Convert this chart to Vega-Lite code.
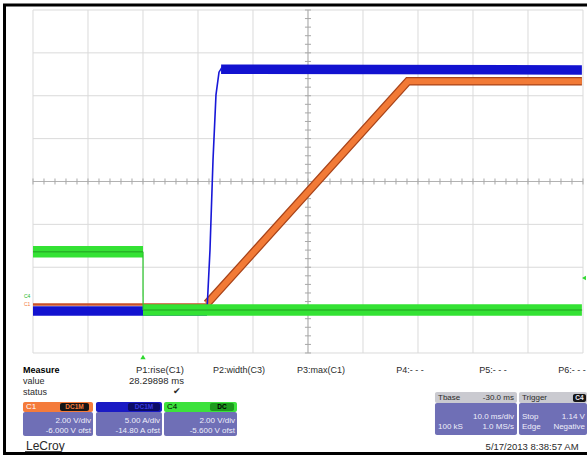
{
  "$schema": "https://vega.github.io/schema/vega-lite/v6.json",
  "width": 587,
  "height": 458,
  "autosize": {"type": "none", "contains": "padding"},
  "padding": 0,
  "background": "white",
  "config": {
    "view": {"stroke": null},
    "axis": {"disable": true},
    "legend": {"disable": true},
    "text": {"font": "Liberation Sans"}
  },
  "datasets": {
    "gridx": [{"t": -20}, {"t": -10}, {"t": 0}, {"t": 10}, {"t": 20}, {"t": 30}, {"t": 40}, {"t": 50}, {"t": 60}, {"t": 70}, {"t": 80}],
    "gridy": [{"v": -4}, {"v": -3}, {"v": -2}, {"v": -1}, {"v": 0}, {"v": 1}, {"v": 2}, {"v": 3}, {"v": 4}],
    "tickx": [{"t": -20}, {"t": -18}, {"t": -16}, {"t": -14}, {"t": -12}, {"t": -10}, {"t": -8}, {"t": -6}, {"t": -4}, {"t": -2}, {"t": 0}, {"t": 2}, {"t": 4}, {"t": 6}, {"t": 8}, {"t": 10}, {"t": 12}, {"t": 14}, {"t": 16}, {"t": 18}, {"t": 20}, {"t": 22}, {"t": 24}, {"t": 26}, {"t": 28}, {"t": 30}, {"t": 32}, {"t": 34}, {"t": 36}, {"t": 38}, {"t": 40}, {"t": 42}, {"t": 44}, {"t": 46}, {"t": 48}, {"t": 50}, {"t": 52}, {"t": 54}, {"t": 56}, {"t": 58}, {"t": 60}, {"t": 62}, {"t": 64}, {"t": 66}, {"t": 68}, {"t": 70}, {"t": 72}, {"t": 74}, {"t": 76}, {"t": 78}, {"t": 80}],
    "ticky": [{"v": -4}, {"v": -3.8}, {"v": -3.6}, {"v": -3.4}, {"v": -3.2}, {"v": -3}, {"v": -2.8}, {"v": -2.6}, {"v": -2.4}, {"v": -2.2}, {"v": -2}, {"v": -1.8}, {"v": -1.6}, {"v": -1.4}, {"v": -1.2}, {"v": -1}, {"v": -0.8}, {"v": -0.6}, {"v": -0.4}, {"v": -0.2}, {"v": 0}, {"v": 0.2}, {"v": 0.4}, {"v": 0.6}, {"v": 0.8}, {"v": 1}, {"v": 1.2}, {"v": 1.4}, {"v": 1.6}, {"v": 1.8}, {"v": 2}, {"v": 2.2}, {"v": 2.4}, {"v": 2.6}, {"v": 2.8}, {"v": 3}, {"v": 3.2}, {"v": 3.4}, {"v": 3.6}, {"v": 3.8}, {"v": 4}],
    "wave": [
      {"ch": "C1", "seg": "C1 base", "kind": "base", "t": -20, "v": -2.87},
      {"ch": "C1", "seg": "C1 base", "kind": "base", "t": 11.64, "v": -2.87},
      {"ch": "C1", "seg": "C1 ramp", "kind": "level", "t": 11.64, "v": -2.85},
      {"ch": "C1", "seg": "C1 ramp", "kind": "level", "t": 48.18, "v": 2.34},
      {"ch": "C1", "seg": "C1 ramp", "kind": "level", "t": 79.8, "v": 2.34},
      {"ch": "C3", "seg": "C3 low", "kind": "level", "t": -20, "v": -3.02},
      {"ch": "C3", "seg": "C3 low", "kind": "level", "t": 11.64, "v": -3.02},
      {"ch": "C3", "seg": "C3 rise", "kind": "edge", "t": 11.64, "v": -3.0},
      {"ch": "C3", "seg": "C3 rise", "kind": "edge", "t": 12.18, "v": -1.6},
      {"ch": "C3", "seg": "C3 rise", "kind": "edge", "t": 12.73, "v": 0.5},
      {"ch": "C3", "seg": "C3 rise", "kind": "edge", "t": 13.27, "v": 2.02},
      {"ch": "C3", "seg": "C3 rise", "kind": "edge", "t": 13.82, "v": 2.55},
      {"ch": "C3", "seg": "C3 rise", "kind": "edge", "t": 14.36, "v": 2.66},
      {"ch": "C3", "seg": "C3 high", "kind": "level", "t": 14.2, "v": 2.62},
      {"ch": "C3", "seg": "C3 high", "kind": "level", "t": 79.8, "v": 2.6},
      {"ch": "C4", "seg": "C4 high", "kind": "level", "t": -20, "v": -1.64},
      {"ch": "C4", "seg": "C4 high", "kind": "level", "t": 0, "v": -1.64},
      {"ch": "C4", "seg": "C4 fall", "kind": "edge", "t": 0, "v": -1.64},
      {"ch": "C4", "seg": "C4 fall", "kind": "edge", "t": 0.02, "v": -3.0},
      {"ch": "C4", "seg": "C4 low", "kind": "level", "t": 0, "v": -3.0},
      {"ch": "C4", "seg": "C4 low", "kind": "level", "t": 79.8, "v": -3.0}
    ],
    "frame": [
      {"t1": -25.18, "t2": -25.18, "v1": 4.117, "v2": -6.344},
      {"t1": -25.45, "t2": 80.73, "v1": 4.117, "v2": 4.117},
      {"t1": -25.45, "t2": 80.73, "v1": -6.344, "v2": -6.344}
    ],
    "boxes": [
      {"role": "hdr1", "t1": -21.82, "t2": -9.09, "v1": -5.143, "v2": -5.376},
      {"role": "body", "t1": -21.82, "t2": -9.09, "v1": -5.376, "v2": -5.936},
      {"role": "badge", "t1": -15.09, "t2": -9.82, "v1": -5.166, "v2": -5.353},
      {"role": "hdr3", "t1": -8.55, "t2": 3.45, "v1": -5.143, "v2": -5.376},
      {"role": "body", "t1": -8.55, "t2": 3.45, "v1": -5.376, "v2": -5.936},
      {"role": "badge3", "t1": -2.73, "t2": 3.09, "v1": -5.166, "v2": -5.353},
      {"role": "hdr4", "t1": 3.82, "t2": 17.09, "v1": -5.143, "v2": -5.376},
      {"role": "body", "t1": 3.82, "t2": 17.09, "v1": -5.376, "v2": -5.936},
      {"role": "badge4", "t1": 12.18, "t2": 16.55, "v1": -5.166, "v2": -5.353},
      {"role": "grey", "t1": 53.09, "t2": 68.0, "v1": -4.91, "v2": -5.166},
      {"role": "body", "t1": 53.09, "t2": 68.0, "v1": -5.166, "v2": -5.913},
      {"role": "grey", "t1": 68.36, "t2": 80.73, "v1": -4.91, "v2": -5.166},
      {"role": "body", "t1": 68.36, "t2": 80.73, "v1": -5.166, "v2": -5.913},
      {"role": "badge", "t1": 78.18, "t2": 80.55, "v1": -4.956, "v2": -5.143}
    ],
    "texts": [
      {"anchor": "left9", "label": "value", "t": -21.82, "v": -4.653, "role": "txt"},
      {"anchor": "left9", "label": "status", "t": -21.82, "v": -4.91, "role": "txt"},
      {"anchor": "left", "label": "C1", "t": -21.27, "v": -5.259, "role": "wtxt"},
      {"anchor": "left", "label": "C4", "t": 4.36, "v": -5.259, "role": "ink"},
      {"anchor": "left", "label": "Tbase", "t": 53.64, "v": -5.038, "role": "txt"},
      {"anchor": "left", "label": "100 kS", "t": 53.64, "v": -5.726, "role": "ltxt"},
      {"anchor": "left", "label": "Trigger", "t": 68.91, "v": -5.038, "role": "txt"},
      {"anchor": "left", "label": "Stop", "t": 68.91, "v": -5.493, "role": "ltxt"},
      {"anchor": "left", "label": "Edge", "t": 68.91, "v": -5.726, "role": "ltxt"},
      {"anchor": "right9", "label": "P1:rise(C1)", "t": 7.45, "v": -4.397, "role": "txt"},
      {"anchor": "right9", "label": "28.29898 ms", "t": 7.45, "v": -4.653, "role": "txt"},
      {"anchor": "right", "label": "2.00 V/div", "t": -9.45, "v": -5.586, "role": "ltxt"},
      {"anchor": "right", "label": "-6.000 V ofst", "t": -9.45, "v": -5.819, "role": "ltxt"},
      {"anchor": "right", "label": "5.00 A/div", "t": 3.09, "v": -5.586, "role": "ltxt"},
      {"anchor": "right", "label": "-14.80 A ofst", "t": 3.09, "v": -5.819, "role": "ltxt"},
      {"anchor": "right", "label": "2.00 V/div", "t": 16.73, "v": -5.586, "role": "ltxt"},
      {"anchor": "right", "label": "-5.600 V ofst", "t": 16.73, "v": -5.819, "role": "ltxt"},
      {"anchor": "right", "label": "-30.0 ms", "t": 67.45, "v": -5.038, "role": "txt"},
      {"anchor": "right", "label": "10.0 ms/div", "t": 67.45, "v": -5.493, "role": "ltxt"},
      {"anchor": "right", "label": "1.0 MS/s", "t": 67.45, "v": -5.726, "role": "ltxt"},
      {"anchor": "right", "label": "1.14 V", "t": 80.36, "v": -5.493, "role": "ltxt"},
      {"anchor": "right", "label": "Negative", "t": 80.36, "v": -5.726, "role": "ltxt"},
      {"anchor": "right9", "label": "5/17/2013 8:38:57 AM", "t": 79.2, "v": -6.192, "role": "txt"},
      {"anchor": "center9", "label": "P2:width(C3)", "t": 17.45, "v": -4.397, "role": "txt"},
      {"anchor": "center9", "label": "P3:max(C1)", "t": 32.36, "v": -4.397, "role": "txt"},
      {"anchor": "center9", "label": "P4:- - -", "t": 48.55, "v": -4.397, "role": "txt"},
      {"anchor": "center9", "label": "P5:- - -", "t": 63.64, "v": -4.397, "role": "txt"},
      {"anchor": "center9", "label": "P6:- - -", "t": 78.0, "v": -4.397, "role": "txt"},
      {"anchor": "center9", "label": "✔", "t": 6.18, "v": -4.886, "role": "txt"},
      {"anchor": "badge", "label": "DC1M", "t": -12.45, "v": -5.259, "role": "otxt"},
      {"anchor": "badge", "label": "DC1M", "t": 0.18, "v": -5.259, "role": "btxt"},
      {"anchor": "badge", "label": "DC", "t": 14.36, "v": -5.259, "role": "ink"},
      {"anchor": "badge", "label": "C4", "t": 79.36, "v": -5.05, "role": "ltxt"},
      {"anchor": "tiny", "label": "C4", "t": -21.64, "v": -2.67, "role": "gtxt"},
      {"anchor": "tiny", "label": "C1", "t": -21.64, "v": -2.85, "role": "otxt"},
      {"anchor": "bold", "label": "Measure", "t": -21.82, "v": -4.397, "role": "ink"},
      {"anchor": "logo", "label": "LeCroy", "t": -21.27, "v": -6.169, "role": "txt"}
    ],
    "markers": [
      {"kind": "trigger time", "t": 0, "v": -4.093},
      {"kind": "trigger level", "t": 80.18, "v": -2.251}
    ],
    "underline": [{"t1": -21.45, "t2": -14.9, "v": -6.3}]
  },
  "layer": [
    {
      "data": {"name": "gridx"},
      "mark": {"type": "rule", "color": "#DADADA", "strokeWidth": 1},
      "encoding": {
        "x": {"field": "t", "type": "quantitative", "scale": {"domain": [-26.0, 80.73], "nice": false, "zero": false}},
        "y": {"datum": -4, "type": "quantitative", "scale": {"domain": [-6.449, 4.233], "nice": false, "zero": false}},
        "y2": {"datum": 4}
      }
    },
    {
      "data": {"name": "gridy"},
      "mark": {"type": "rule", "color": "#DADADA", "strokeWidth": 1},
      "encoding": {
        "y": {"field": "v", "type": "quantitative", "scale": {"domain": [-6.449, 4.233], "nice": false, "zero": false}},
        "x": {"datum": -20, "type": "quantitative", "scale": {"domain": [-26.0, 80.73], "nice": false, "zero": false}},
        "x2": {"datum": 80}
      }
    },
    {
      "data": {"values": [{"t": 30}]},
      "mark": {"type": "rule", "color": "#B2B2B2", "strokeWidth": 1},
      "encoding": {
        "x": {"field": "t", "type": "quantitative", "scale": {"domain": [-26.0, 80.73], "nice": false, "zero": false}},
        "y": {"datum": -4, "type": "quantitative", "scale": {"domain": [-6.449, 4.233], "nice": false, "zero": false}},
        "y2": {"datum": 4}
      }
    },
    {
      "data": {"values": [{"v": 0}]},
      "mark": {"type": "rule", "color": "#B2B2B2", "strokeWidth": 1},
      "encoding": {
        "y": {"field": "v", "type": "quantitative", "scale": {"domain": [-6.449, 4.233], "nice": false, "zero": false}},
        "x": {"datum": -20, "type": "quantitative", "scale": {"domain": [-26.0, 80.73], "nice": false, "zero": false}},
        "x2": {"datum": 80}
      }
    },
    {
      "data": {"name": "tickx"},
      "mark": {"type": "rule", "color": "#A8A8A8", "strokeWidth": 1},
      "encoding": {
        "x": {"field": "t", "type": "quantitative", "scale": {"domain": [-26.0, 80.73], "nice": false, "zero": false}},
        "y": {"datum": -0.07, "type": "quantitative", "scale": {"domain": [-6.449, 4.233], "nice": false, "zero": false}},
        "y2": {"datum": 0.07}
      }
    },
    {
      "data": {"name": "ticky"},
      "mark": {"type": "rule", "color": "#A8A8A8", "strokeWidth": 1},
      "encoding": {
        "y": {"field": "v", "type": "quantitative", "scale": {"domain": [-6.449, 4.233], "nice": false, "zero": false}},
        "x": {"datum": 29.45, "type": "quantitative", "scale": {"domain": [-26.0, 80.73], "nice": false, "zero": false}},
        "x2": {"datum": 30.55}
      }
    },
    {
      "data": {"name": "wave"},
      "transform": [{"filter": "datum.kind == 'base'"}],
      "mark": {"type": "line", "color": "#C8502A", "strokeWidth": 2.5, "strokeCap": "butt"},
      "encoding": {
        "x": {"field": "t", "type": "quantitative", "scale": {"domain": [-26.0, 80.73], "nice": false, "zero": false}},
        "y": {"field": "v", "type": "quantitative", "scale": {"domain": [-6.449, 4.233], "nice": false, "zero": false}},
        "detail": {"field": "seg"}
      }
    },
    {
      "data": {"name": "wave"},
      "transform": [{"filter": "datum.ch == 'C1' && datum.kind == 'level'"}],
      "mark": {"type": "line", "color": "#A8441A", "strokeWidth": 8.5, "strokeCap": "butt", "strokeJoin": "miter"},
      "encoding": {
        "x": {"field": "t", "type": "quantitative", "scale": {"domain": [-26.0, 80.73], "nice": false, "zero": false}},
        "y": {"field": "v", "type": "quantitative", "scale": {"domain": [-6.449, 4.233], "nice": false, "zero": false}},
        "detail": {"field": "seg"}
      }
    },
    {
      "data": {"name": "wave"},
      "transform": [{"filter": "datum.ch == 'C1' && datum.kind == 'level'"}],
      "mark": {"type": "line", "color": "#F27A36", "strokeWidth": 6, "strokeCap": "butt", "strokeJoin": "miter"},
      "encoding": {
        "x": {"field": "t", "type": "quantitative", "scale": {"domain": [-26.0, 80.73], "nice": false, "zero": false}},
        "y": {"field": "v", "type": "quantitative", "scale": {"domain": [-6.449, 4.233], "nice": false, "zero": false}},
        "detail": {"field": "seg"}
      }
    },
    {
      "data": {"name": "wave"},
      "transform": [{"filter": "datum.ch == 'C3' && datum.kind == 'level'"}],
      "mark": {"type": "line", "color": "#1212D0", "strokeWidth": 9.5, "strokeCap": "butt"},
      "encoding": {
        "x": {"field": "t", "type": "quantitative", "scale": {"domain": [-26.0, 80.73], "nice": false, "zero": false}},
        "y": {"field": "v", "type": "quantitative", "scale": {"domain": [-6.449, 4.233], "nice": false, "zero": false}},
        "detail": {"field": "seg"}
      }
    },
    {
      "data": {"name": "wave"},
      "transform": [{"filter": "datum.ch == 'C3' && datum.kind == 'edge'"}],
      "mark": {"type": "line", "color": "#1818D8", "strokeWidth": 1.6},
      "encoding": {
        "x": {"field": "t", "type": "quantitative", "scale": {"domain": [-26.0, 80.73], "nice": false, "zero": false}},
        "y": {"field": "v", "type": "quantitative", "scale": {"domain": [-6.449, 4.233], "nice": false, "zero": false}},
        "detail": {"field": "seg"}
      }
    },
    {
      "data": {"name": "wave"},
      "transform": [{"filter": "datum.ch == 'C4' && datum.kind == 'level'"}],
      "mark": {"type": "line", "color": "#34E234", "strokeWidth": 11.5, "strokeCap": "butt"},
      "encoding": {
        "x": {"field": "t", "type": "quantitative", "scale": {"domain": [-26.0, 80.73], "nice": false, "zero": false}},
        "y": {"field": "v", "type": "quantitative", "scale": {"domain": [-6.449, 4.233], "nice": false, "zero": false}},
        "detail": {"field": "seg"}
      }
    },
    {
      "data": {"name": "wave"},
      "transform": [{"filter": "datum.ch == 'C4' && datum.kind == 'level'"}],
      "mark": {"type": "line", "color": "#1E8E1E", "strokeWidth": 1.5, "opacity": 0.55, "strokeCap": "butt"},
      "encoding": {
        "x": {"field": "t", "type": "quantitative", "scale": {"domain": [-26.0, 80.73], "nice": false, "zero": false}},
        "y": {"field": "v", "type": "quantitative", "scale": {"domain": [-6.449, 4.233], "nice": false, "zero": false}},
        "detail": {"field": "seg"}
      }
    },
    {
      "data": {"name": "wave"},
      "transform": [{"filter": "datum.ch == 'C4' && datum.kind == 'edge'"}],
      "mark": {"type": "line", "color": "#2AC82A", "strokeWidth": 1.2},
      "encoding": {
        "x": {"field": "t", "type": "quantitative", "scale": {"domain": [-26.0, 80.73], "nice": false, "zero": false}},
        "y": {"field": "v", "type": "quantitative", "scale": {"domain": [-6.449, 4.233], "nice": false, "zero": false}},
        "detail": {"field": "seg"}
      }
    },
    {
      "data": {"name": "markers"},
      "transform": [{"filter": "datum.kind == 'trigger time'"}],
      "mark": {"type": "point", "shape": "triangle-up", "filled": true, "color": "#2ED82E", "size": 28, "opacity": 1},
      "encoding": {
        "x": {"field": "t", "type": "quantitative", "scale": {"domain": [-26.0, 80.73], "nice": false, "zero": false}},
        "y": {"field": "v", "type": "quantitative", "scale": {"domain": [-6.449, 4.233], "nice": false, "zero": false}}
      }
    },
    {
      "data": {"name": "markers"},
      "transform": [{"filter": "datum.kind == 'trigger level'"}],
      "mark": {"type": "point", "shape": "triangle-left", "filled": true, "color": "#2ED82E", "size": 20, "opacity": 1},
      "encoding": {
        "x": {"field": "t", "type": "quantitative", "scale": {"domain": [-26.0, 80.73], "nice": false, "zero": false}},
        "y": {"field": "v", "type": "quantitative", "scale": {"domain": [-6.449, 4.233], "nice": false, "zero": false}}
      }
    },
    {
      "data": {"name": "boxes"},
      "mark": {"type": "rect", "cornerRadius": 2},
      "encoding": {
        "x": {"field": "t1", "type": "quantitative", "scale": {"domain": [-26.0, 80.73], "nice": false, "zero": false}},
        "x2": {"field": "t2"},
        "y": {"field": "v1", "type": "quantitative", "scale": {"domain": [-6.449, 4.233], "nice": false, "zero": false}},
        "y2": {"field": "v2"},
        "color": {"field": "role", "type": "nominal", "legend": null, "scale": {"domain": ["hdr1", "hdr3", "hdr4", "body", "grey", "badge", "badge3", "badge4", "txt", "wtxt", "ltxt", "otxt", "btxt", "gtxt", "ink"], "range": ["#F47B3B", "#1A1AC4", "#3CE23C", "#6F6FB6", "#CACAD0", "#161616", "#0C0C66", "#1E9A1E", "#2A2A2A", "#FFFFFF", "#EEEEFA", "#F47B3B", "#3A3AE0", "#22B822", "#000000"]}}
      }
    },
    {
      "data": {"name": "texts"},
      "transform": [{"filter": "datum.anchor == 'left'"}],
      "mark": {"type": "text", "align": "left", "baseline": "middle", "fontSize": 8},
      "encoding": {
        "x": {"field": "t", "type": "quantitative", "scale": {"domain": [-26.0, 80.73], "nice": false, "zero": false}},
        "y": {"field": "v", "type": "quantitative", "scale": {"domain": [-6.449, 4.233], "nice": false, "zero": false}},
        "text": {"field": "label"},
        "color": {"field": "role", "type": "nominal", "legend": null}
      }
    },
    {
      "data": {"name": "texts"},
      "transform": [{"filter": "datum.anchor == 'left9'"}],
      "mark": {"type": "text", "align": "left", "baseline": "middle", "fontSize": 9},
      "encoding": {
        "x": {"field": "t", "type": "quantitative", "scale": {"domain": [-26.0, 80.73], "nice": false, "zero": false}},
        "y": {"field": "v", "type": "quantitative", "scale": {"domain": [-6.449, 4.233], "nice": false, "zero": false}},
        "text": {"field": "label"},
        "color": {"field": "role", "type": "nominal", "legend": null}
      }
    },
    {
      "data": {"name": "texts"},
      "transform": [{"filter": "datum.anchor == 'right'"}],
      "mark": {"type": "text", "align": "right", "baseline": "middle", "fontSize": 8},
      "encoding": {
        "x": {"field": "t", "type": "quantitative", "scale": {"domain": [-26.0, 80.73], "nice": false, "zero": false}},
        "y": {"field": "v", "type": "quantitative", "scale": {"domain": [-6.449, 4.233], "nice": false, "zero": false}},
        "text": {"field": "label"},
        "color": {"field": "role", "type": "nominal", "legend": null}
      }
    },
    {
      "data": {"name": "texts"},
      "transform": [{"filter": "datum.anchor == 'right9'"}],
      "mark": {"type": "text", "align": "right", "baseline": "middle", "fontSize": 9.5},
      "encoding": {
        "x": {"field": "t", "type": "quantitative", "scale": {"domain": [-26.0, 80.73], "nice": false, "zero": false}},
        "y": {"field": "v", "type": "quantitative", "scale": {"domain": [-6.449, 4.233], "nice": false, "zero": false}},
        "text": {"field": "label"},
        "color": {"field": "role", "type": "nominal", "legend": null}
      }
    },
    {
      "data": {"name": "texts"},
      "transform": [{"filter": "datum.anchor == 'center9'"}],
      "mark": {"type": "text", "align": "center", "baseline": "middle", "fontSize": 9},
      "encoding": {
        "x": {"field": "t", "type": "quantitative", "scale": {"domain": [-26.0, 80.73], "nice": false, "zero": false}},
        "y": {"field": "v", "type": "quantitative", "scale": {"domain": [-6.449, 4.233], "nice": false, "zero": false}},
        "text": {"field": "label"},
        "color": {"field": "role", "type": "nominal", "legend": null}
      }
    },
    {
      "data": {"name": "texts"},
      "transform": [{"filter": "datum.anchor == 'badge'"}],
      "mark": {"type": "text", "align": "center", "baseline": "middle", "fontSize": 6.5, "fontWeight": "bold"},
      "encoding": {
        "x": {"field": "t", "type": "quantitative", "scale": {"domain": [-26.0, 80.73], "nice": false, "zero": false}},
        "y": {"field": "v", "type": "quantitative", "scale": {"domain": [-6.449, 4.233], "nice": false, "zero": false}},
        "text": {"field": "label"},
        "color": {"field": "role", "type": "nominal", "legend": null}
      }
    },
    {
      "data": {"name": "texts"},
      "transform": [{"filter": "datum.anchor == 'tiny'"}],
      "mark": {"type": "text", "align": "left", "baseline": "middle", "fontSize": 5},
      "encoding": {
        "x": {"field": "t", "type": "quantitative", "scale": {"domain": [-26.0, 80.73], "nice": false, "zero": false}},
        "y": {"field": "v", "type": "quantitative", "scale": {"domain": [-6.449, 4.233], "nice": false, "zero": false}},
        "text": {"field": "label"},
        "color": {"field": "role", "type": "nominal", "legend": null}
      }
    },
    {
      "data": {"name": "texts"},
      "transform": [{"filter": "datum.anchor == 'bold'"}],
      "mark": {"type": "text", "align": "left", "baseline": "middle", "fontSize": 9, "fontWeight": "bold"},
      "encoding": {
        "x": {"field": "t", "type": "quantitative", "scale": {"domain": [-26.0, 80.73], "nice": false, "zero": false}},
        "y": {"field": "v", "type": "quantitative", "scale": {"domain": [-6.449, 4.233], "nice": false, "zero": false}},
        "text": {"field": "label"},
        "color": {"field": "role", "type": "nominal", "legend": null}
      }
    },
    {
      "data": {"name": "texts"},
      "transform": [{"filter": "datum.anchor == 'logo'"}],
      "mark": {"type": "text", "align": "left", "baseline": "middle", "fontSize": 12},
      "encoding": {
        "x": {"field": "t", "type": "quantitative", "scale": {"domain": [-26.0, 80.73], "nice": false, "zero": false}},
        "y": {"field": "v", "type": "quantitative", "scale": {"domain": [-6.449, 4.233], "nice": false, "zero": false}},
        "text": {"field": "label"},
        "color": {"field": "role", "type": "nominal", "legend": null}
      }
    },
    {
      "data": {"name": "underline"},
      "mark": {"type": "rule", "color": "#333333", "strokeWidth": 1},
      "encoding": {
        "x": {"field": "t1", "type": "quantitative", "scale": {"domain": [-26.0, 80.73], "nice": false, "zero": false}},
        "x2": {"field": "t2"},
        "y": {"field": "v", "type": "quantitative", "scale": {"domain": [-6.449, 4.233], "nice": false, "zero": false}}
      }
    },
    {
      "data": {"name": "frame"},
      "mark": {"type": "rule", "color": "#000000", "strokeWidth": 3},
      "encoding": {
        "x": {"field": "t1", "type": "quantitative", "scale": {"domain": [-26.0, 80.73], "nice": false, "zero": false}},
        "x2": {"field": "t2"},
        "y": {"field": "v1", "type": "quantitative", "scale": {"domain": [-6.449, 4.233], "nice": false, "zero": false}},
        "y2": {"field": "v2"}
      }
    }
  ]
}
